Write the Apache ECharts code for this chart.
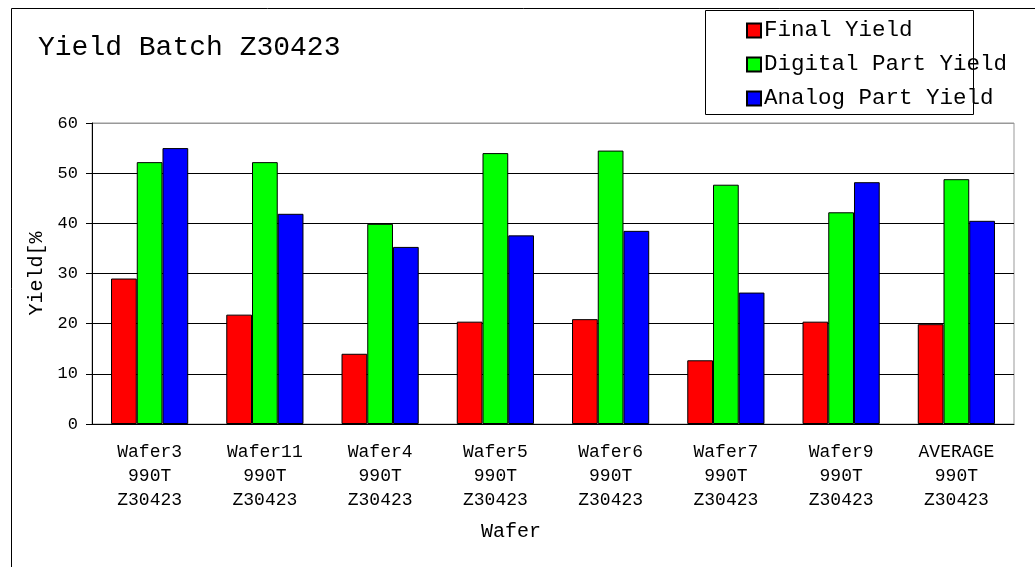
<!DOCTYPE html>
<html>
<head>
<meta charset="utf-8">
<script src="https://cdn.jsdelivr.net/npm/echarts@6/dist/echarts.min.js"></script>
<style>
  html, body { margin: 0; padding: 0; background: #fff; }
  #chart { width: 1035px; height: 567px; }
</style>
</head>
<body>
<div id="chart"></div>
<script>
// wafer categories (three lines each on the axis)
var wafers = ['Wafer3', 'Wafer11', 'Wafer4', 'Wafer5', 'Wafer6', 'Wafer7', 'Wafer9', 'AVERAGE'];
var waferType = '990T';
var batch = 'Z30423';

var finalYield   = [29.0, 21.8, 14.0, 20.4, 20.9, 12.7, 20.4, 19.9];
var digitalYield = [52.2, 52.2, 39.9, 54.0, 54.5, 47.7, 42.2, 48.8];
var analogYield  = [55.0, 41.9, 35.3, 37.6, 38.5, 26.2, 48.2, 40.5];

var seriesNames = ['Final Yield', 'Digital Part Yield', 'Analog Part Yield'];
var seriesColors = ['#ff0000', '#00ff00', '#0000ff'];

var mono = "'Liberation Mono', 'DejaVu Sans Mono', monospace";

var categories = wafers.map(function (w) { return w + '\n' + waferType + '\n' + batch; });

var chart = echarts.init(document.getElementById('chart'));

function bar(i, data) {
  return {
    name: seriesNames[i],
    type: 'bar',
    data: data,
    barGap: '0%',
    barCategoryGap: '33%',
    itemStyle: { color: seriesColors[i], borderColor: '#000', borderWidth: 1 }
  };
}

var option = {
  animation: false,
  backgroundColor: '#fff',
  textStyle: { fontFamily: mono },
  title: {
    text: 'Yield Batch ' + batch,
    left: 38,
    top: 34,
    padding: 0,
    textStyle: { fontFamily: mono, fontSize: 28, fontWeight: 'normal', color: '#000' }
  },
  legend: {
    orient: 'vertical',
    left: 746,
    top: 19,
    padding: 0,
    itemGap: 11,
    itemWidth: 14,
    itemHeight: 14,
    icon: 'rect',
    data: seriesNames,
    textStyle: { fontFamily: mono, fontSize: 22.5, color: '#000', padding: [0, 0, 0, -2] }
  },
  graphic: [
    {
      type: 'rect', z: -10, silent: true,
      shape: { x: 11.5, y: 8.5, width: 1100, height: 700 },
      style: { fill: 'none', stroke: '#000', lineWidth: 1 }
    },
    {
      type: 'rect', z: -5, silent: true,
      shape: { x: 705.5, y: 10.5, width: 268, height: 104 },
      style: { fill: '#fff', stroke: '#000', lineWidth: 1 }
    }
  ],
  grid: {
    left: 92,
    top: 123,
    right: 21,
    bottom: 143,
    show: true,
    borderColor: '#999',
    borderWidth: 1,
    containLabel: false
  },
  xAxis: {
    type: 'category',
    data: categories,
    name: 'Wafer',
    nameLocation: 'middle',
    nameGap: 98,
    nameTextStyle: { fontFamily: mono, fontSize: 20, color: '#000', padding: [0, 84, 0, 0] },
    axisLine: { lineStyle: { color: '#000', width: 1 } },
    axisTick: { length: 6, lineStyle: { color: '#000' } },
    axisLabel: { fontFamily: mono, fontSize: 18, color: '#000', lineHeight: 24, margin: 16, interval: 0 }
  },
  yAxis: {
    type: 'value',
    min: 0,
    max: 60,
    interval: 10,
    name: 'Yield[%',
    nameLocation: 'middle',
    nameGap: 45,
    nameTextStyle: { fontFamily: mono, fontSize: 20, color: '#000' },
    axisLine: { show: true, lineStyle: { color: '#000', width: 1 } },
    axisTick: { show: true, length: 6, lineStyle: { color: '#000' } },
    axisLabel: { fontFamily: mono, fontSize: 17, color: '#000', margin: 14 },
    splitLine: { lineStyle: { color: ['#000', '#000', '#000', '#000', '#000', '#000', '#999'], width: 1 } }
  },
  series: [bar(0, finalYield), bar(1, digitalYield), bar(2, analogYield)]
};

chart.setOption(option);
</script>
</body>
</html>
